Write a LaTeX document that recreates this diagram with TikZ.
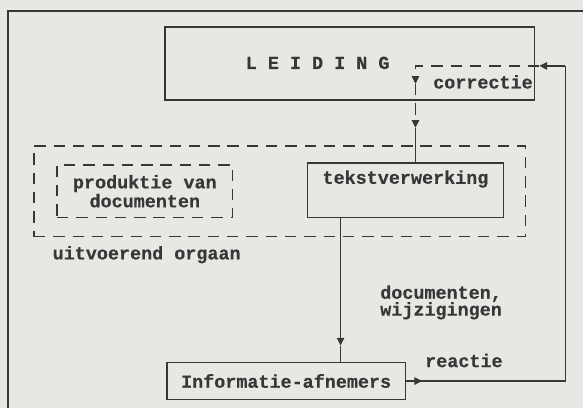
\documentclass[tikz,border=0pt]{standalone}
\usepackage{fontspec}
\setmonofont{Liberation Mono}[BoldFeatures={FakeBold=0.3}]
\usepackage{xcolor}
\usetikzlibrary{arrows.meta, positioning, calc}

\definecolor{paper}{RGB}{231,231,228}
\definecolor{ink}{RGB}{55,55,55}

\begin{document}
\begin{tikzpicture}[
    x=0.02cm, y=-0.02cm,
    font=\ttfamily\bfseries\fontsize{10.5}{9.6}\selectfont,
    color=ink,
    line width=0.85pt,
    box/.style={rectangle, draw=ink, line width=0.85pt, inner sep=0pt},
    dbox/.style={box, dash pattern=on 6.5pt off 4.5pt},
    txt/.style={inner sep=0pt, text=ink, align=left},
    fb/.style={dash pattern=on 6.5pt off 4.5pt},
    tip/.style={-{Triangle[length=4.4pt,width=4.2pt]}}
]

% Page and frame
\fill[paper] (0,0) rectangle (584,409);
\draw (8,409) -- (8,11) -- (584,11);

% Boxes
\node[box, minimum width=7.4cm, minimum height=1.46cm] (leiding) at (350,63.5) {};
\node[txt] (leidingtxt) at (318,63) {L E I D I N G};
\node[txt, anchor=west] (corrtxt) at (433,82) {correctie};

\node[dbox, minimum width=9.84cm, minimum height=1.82cm] (orgaan) at (280,191.5) {};
\node[dbox, minimum width=3.52cm, minimum height=1.06cm, align=center] (produktie) at (145,191.5) {produktie van\\documenten};
\node[box, minimum width=3.92cm, text height=0.42cm, text depth=0.68cm] (tekst) at (406,190.5) {tekstverwerking};
\node[txt, anchor=west] (orgaantxt) at (52,255) {uitvoerend orgaan};

\node[box, minimum width=4.78cm, minimum height=0.74cm] (info) at (286.5,381.5) {Informatie-afnemers};
\node[txt, anchor=north west] (docstxt) at (380,285) {documenten,\\wijzigingen};
\node[txt, anchor=west] (reactietxt) at (425,361) {reactie};

% Points on the lines
\coordinate (fbbot) at (566,381.5);
\coordinate (fbtop) at (566,66);
\coordinate (corrin) at (540,66);
\coordinate (corner) at (416,66);
\coordinate (corrtip1) at (416,84);
\coordinate (corrtip2) at (416,128);
\coordinate (docstip) at (341,346);

% Documents to users
\draw[tip] (tekst.south -| docstip) -- (docstip);
\draw (docstip) -- (info.north -| docstip);

% Reaction and correction
\draw (info.east) -- (fbbot) -- (fbtop);
\draw[tip] (info.east) -- ++(16,0);
\draw[tip] (fbtop) -- (corrin);
\draw[fb, tip] (corrin) -- (corner) -- (corrtip1);
\draw[fb, tip] (corrtip1) -- (corrtip2);
\draw (corrtip2) -- (tekst.north -| corner);

\end{tikzpicture}
\end{document}
